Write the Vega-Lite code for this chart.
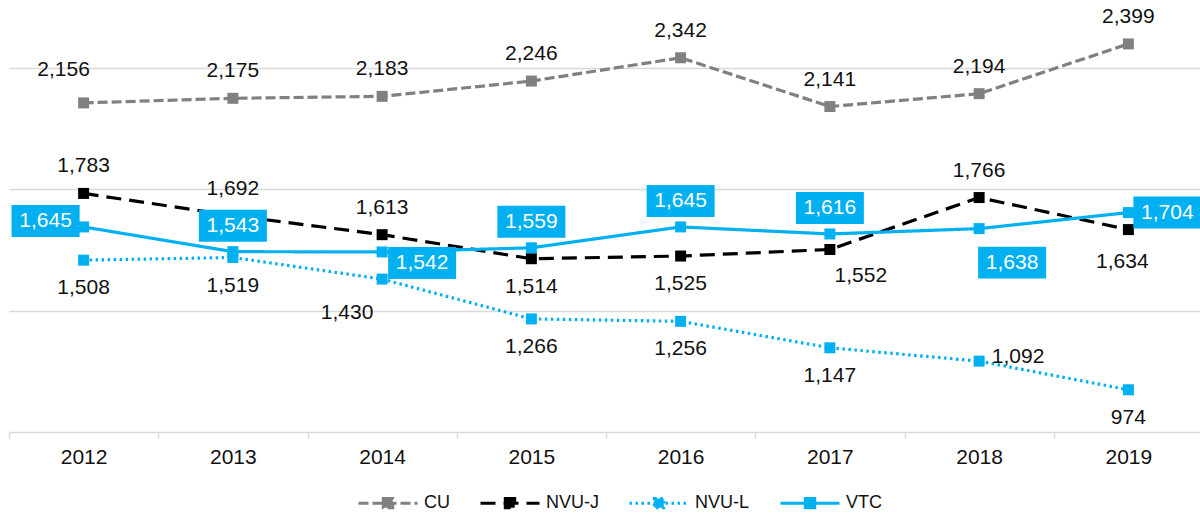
{
  "$schema": "https://vega.github.io/schema/vega-lite/v6.json",
  "width": 1194,
  "height": 432,
  "padding": {"left": 9, "top": 0, "right": 0, "bottom": 84},
  "autosize": {"type": "none"},
  "background": "#ffffff",
  "config": {"font": "Liberation Sans", "view": {"stroke": null}},
  "data": {"values": [
    {"year": "2012", "series": "CU", "value": 2156},
    {"year": "2013", "series": "CU", "value": 2175},
    {"year": "2014", "series": "CU", "value": 2183},
    {"year": "2015", "series": "CU", "value": 2246},
    {"year": "2016", "series": "CU", "value": 2342},
    {"year": "2017", "series": "CU", "value": 2141},
    {"year": "2018", "series": "CU", "value": 2194},
    {"year": "2019", "series": "CU", "value": 2399},
    {"year": "2012", "series": "NVU-J", "value": 1783},
    {"year": "2013", "series": "NVU-J", "value": 1692},
    {"year": "2014", "series": "NVU-J", "value": 1613},
    {"year": "2015", "series": "NVU-J", "value": 1514},
    {"year": "2016", "series": "NVU-J", "value": 1525},
    {"year": "2017", "series": "NVU-J", "value": 1552},
    {"year": "2018", "series": "NVU-J", "value": 1766},
    {"year": "2019", "series": "NVU-J", "value": 1634},
    {"year": "2012", "series": "NVU-L", "value": 1508},
    {"year": "2013", "series": "NVU-L", "value": 1519},
    {"year": "2014", "series": "NVU-L", "value": 1430},
    {"year": "2015", "series": "NVU-L", "value": 1266},
    {"year": "2016", "series": "NVU-L", "value": 1256},
    {"year": "2017", "series": "NVU-L", "value": 1147},
    {"year": "2018", "series": "NVU-L", "value": 1092},
    {"year": "2019", "series": "NVU-L", "value": 974},
    {"year": "2012", "series": "VTC", "value": 1645},
    {"year": "2013", "series": "VTC", "value": 1543},
    {"year": "2014", "series": "VTC", "value": 1542},
    {"year": "2015", "series": "VTC", "value": 1559},
    {"year": "2016", "series": "VTC", "value": 1645},
    {"year": "2017", "series": "VTC", "value": 1616},
    {"year": "2018", "series": "VTC", "value": 1638},
    {"year": "2019", "series": "VTC", "value": 1704}
  ]},
  "encoding": {
    "x": {
      "field": "year", "type": "ordinal", "bandPosition": 0.5,
      "scale": {"type": "band", "paddingInner": 0, "paddingOuter": 0},
      "axis": {"title": null, "labelAngle": 0, "labelFontSize": 21, "labelColor": "#111111", "domainColor": "#d9d9d9", "domainWidth": 1.5, "tickColor": "#d9d9d9", "tickWidth": 1.5, "tickSize": 6, "tickBand": "extent", "labelPadding": 8, "grid": false}
    },
    "y": {
      "field": "value", "type": "quantitative",
      "scale": {"domain": [800, 2580], "nice": false, "zero": false},
      "axis": {"title": null, "labels": false, "ticks": false, "domain": false, "grid": true, "gridColor": "#d9d9d9", "gridWidth": 1.5, "values": [1300, 1800, 2300]}
    }
  },
  "layer": [
    {
      "mark": {"type": "line", "strokeWidth": 3.2},
      "encoding": {
        "color": {
          "field": "series", "type": "nominal",
          "scale": {"domain": ["CU", "NVU-J", "NVU-L", "VTC"], "range": ["#808080", "#000000", "#00b0f0", "#00b0f0"]},
          "legend": {
            "title": null, "orient": "none", "legendX": 348, "legendY": 472, "direction": "horizontal",
            "symbolType": "M-1,0H1M-0.16,-0.16H0.16V0.16H-0.16Z", "symbolSize": 3481, "symbolStrokeWidth": 3,
            "labelFontSize": 18, "labelColor": "#111111", "labelOffset": 5, "columnPadding": 24,
            "encode": {"symbols": {"update": {"fill": {"scale": "color", "field": "value"}, "stroke": {"scale": "color", "field": "value"}, "opacity": {"value": 1}}}}
          }
        },
        "strokeDash": {
          "field": "series", "type": "nominal",
          "scale": {"domain": ["CU", "NVU-J", "NVU-L", "VTC"], "range": [[10, 4], [15, 8], [2.5, 3.5], [1, 0]]}
        }
      }
    },
    {
      "mark": {"type": "point", "shape": "square", "filled": true, "size": 121, "opacity": 1},
      "encoding": {"color": {"field": "series", "type": "nominal"}}
    },
    {
      "transform": [{"filter": "datum.series=='VTC' && (datum.year=='2013' || datum.year=='2015' || datum.year=='2016' || datum.year=='2017')"}],
      "mark": {"type": "point", "shape": "M-1,-0.47H1V0.47H-1Z", "size": 4624, "filled": true, "opacity": 1, "color": "#00b0f0", "yOffset": -26}
    },
    {
      "transform": [{"filter": "datum.series=='VTC' && datum.year=='2012'"}],
      "mark": {"type": "point", "shape": "M-1,-0.47H1V0.47H-1Z", "size": 4624, "filled": true, "opacity": 1, "color": "#00b0f0", "xOffset": -38, "yOffset": -6}
    },
    {
      "transform": [{"filter": "datum.series=='VTC' && datum.year=='2014'"}],
      "mark": {"type": "point", "shape": "M-1,-0.47H1V0.47H-1Z", "size": 4624, "filled": true, "opacity": 1, "color": "#00b0f0", "xOffset": 40, "yOffset": 11}
    },
    {
      "transform": [{"filter": "datum.series=='VTC' && datum.year=='2018'"}],
      "mark": {"type": "point", "shape": "M-1,-0.47H1V0.47H-1Z", "size": 4624, "filled": true, "opacity": 1, "color": "#00b0f0", "xOffset": 33, "yOffset": 34}
    },
    {
      "transform": [{"filter": "datum.series=='VTC' && datum.year=='2019'"}],
      "mark": {"type": "point", "shape": "M-1,-0.47H1V0.47H-1Z", "size": 4624, "filled": true, "opacity": 1, "color": "#00b0f0", "xOffset": 39, "yOffset": 0}
    },
    {
      "transform": [{"filter": "datum.series=='VTC' && (datum.year=='2013' || datum.year=='2015' || datum.year=='2016' || datum.year=='2017')"}],
      "mark": {"type": "text", "fontSize": 21, "color": "#ffffff", "baseline": "middle", "dy": -26},
      "encoding": {"text": {"field": "value", "type": "quantitative", "format": ","}}
    },
    {
      "transform": [{"filter": "datum.series=='VTC' && datum.year=='2012'"}],
      "mark": {"type": "text", "fontSize": 21, "color": "#ffffff", "baseline": "middle", "dx": -38, "dy": -6},
      "encoding": {"text": {"field": "value", "type": "quantitative", "format": ","}}
    },
    {
      "transform": [{"filter": "datum.series=='VTC' && datum.year=='2014'"}],
      "mark": {"type": "text", "fontSize": 21, "color": "#ffffff", "baseline": "middle", "dx": 40, "dy": 11},
      "encoding": {"text": {"field": "value", "type": "quantitative", "format": ","}}
    },
    {
      "transform": [{"filter": "datum.series=='VTC' && datum.year=='2018'"}],
      "mark": {"type": "text", "fontSize": 21, "color": "#ffffff", "baseline": "middle", "dx": 33, "dy": 34},
      "encoding": {"text": {"field": "value", "type": "quantitative", "format": ","}}
    },
    {
      "transform": [{"filter": "datum.series=='VTC' && datum.year=='2019'"}],
      "mark": {"type": "text", "fontSize": 21, "color": "#ffffff", "baseline": "middle", "dx": 39, "dy": 0},
      "encoding": {"text": {"field": "value", "type": "quantitative", "format": ","}}
    },
    {
      "transform": [{"filter": "(datum.series=='CU' && datum.year!='2012') || (datum.series=='NVU-J' && (datum.year=='2012' || datum.year=='2013' || datum.year=='2014' || datum.year=='2018'))"}],
      "mark": {"type": "text", "fontSize": 21, "color": "#111111", "baseline": "middle", "dy": -27},
      "encoding": {"text": {"field": "value", "type": "quantitative", "format": ","}}
    },
    {
      "transform": [{"filter": "datum.series=='CU' && datum.year=='2012'"}],
      "mark": {"type": "text", "fontSize": 21, "color": "#111111", "baseline": "middle", "dx": -20, "dy": -33},
      "encoding": {"text": {"field": "value", "type": "quantitative", "format": ","}}
    },
    {
      "transform": [{"filter": "(datum.series=='NVU-J' && (datum.year=='2015' || datum.year=='2016')) || (datum.series=='NVU-L' && datum.year!='2014' && datum.year!='2018')"}],
      "mark": {"type": "text", "fontSize": 21, "color": "#111111", "baseline": "middle", "dy": 28},
      "encoding": {"text": {"field": "value", "type": "quantitative", "format": ","}}
    },
    {
      "transform": [{"filter": "datum.series=='NVU-J' && datum.year=='2017'"}],
      "mark": {"type": "text", "fontSize": 21, "color": "#111111", "baseline": "middle", "dx": 31, "dy": 27},
      "encoding": {"text": {"field": "value", "type": "quantitative", "format": ","}}
    },
    {
      "transform": [{"filter": "datum.series=='NVU-J' && datum.year=='2019'"}],
      "mark": {"type": "text", "fontSize": 21, "color": "#111111", "baseline": "middle", "dx": -6, "dy": 32},
      "encoding": {"text": {"field": "value", "type": "quantitative", "format": ","}}
    },
    {
      "transform": [{"filter": "datum.series=='NVU-L' && datum.year=='2014'"}],
      "mark": {"type": "text", "fontSize": 21, "color": "#111111", "baseline": "middle", "dx": -35, "dy": 34},
      "encoding": {"text": {"field": "value", "type": "quantitative", "format": ","}}
    },
    {
      "transform": [{"filter": "datum.series=='NVU-L' && datum.year=='2018'"}],
      "mark": {"type": "text", "fontSize": 21, "color": "#111111", "baseline": "middle", "dx": 39, "dy": -4},
      "encoding": {"text": {"field": "value", "type": "quantitative", "format": ","}}
    }
  ]
}
